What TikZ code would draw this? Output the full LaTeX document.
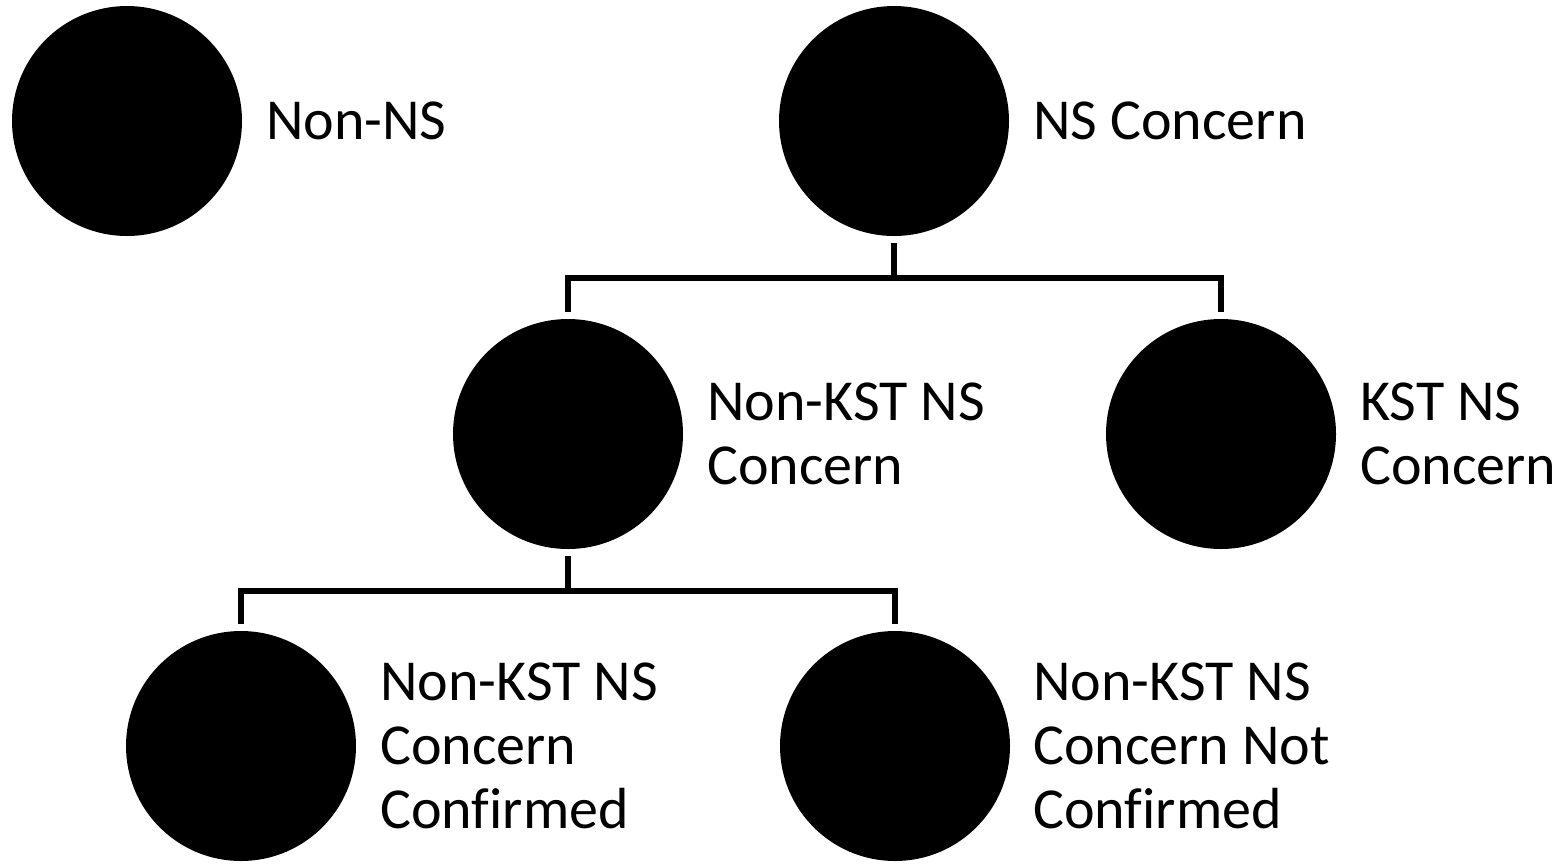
\documentclass[tikz,border=0pt]{standalone}
\usepackage{fontspec}
\setmainfont{Carlito}[Ligatures=NoCommon]
\begin{document}
\begin{tikzpicture}[x=1pt,y=-1pt,
  dot/.style={circle,fill=black,minimum size=230pt,inner sep=0pt},
  lbl/.style={anchor=west,align=left,inner sep=0pt,font=\fontsize{58}{64}\selectfont},
  conn/.style={line width=6pt,line join=miter,line cap=butt}]
\useasboundingbox (0,0) rectangle (1562,863);
\node[dot] (nonns) at (127,121) {};
\node[dot] (ns) at (894,121) {};
\node[dot] (nk) at (568,434) {};
\node[dot] (kst) at (1221,434) {};
\node[dot] (conf) at (241,746) {};
\node[dot] (notconf) at (895,746) {};
\node[lbl] (tnonns) at (266,121) {Non-NS};
\node[lbl] (tns) at (1033,121) {NS Concern};
\node[lbl] (tnk) at (707,434) {Non-KST NS\\Concern};
\node[lbl] (tkst) at (1360,434) {KST NS\\Concern};
\node[lbl] (tconf) at (380,746) {Non-KST NS\\Concern\\Confirmed};
\node[lbl] (tnotconf) at (1033,746) {Non-KST NS\\Concern Not\\Confirmed};
\coordinate (j1) at (894,278);
\coordinate (j2) at (568,591);
\draw[conn,shorten <=7pt] (ns.south) -- (j1);
\draw[conn,shorten >=7pt] (j1) -| (nk.north);
\draw[conn,shorten >=7pt] (j1) -| (kst.north);
\draw[conn,shorten <=7pt] (nk.south) -- (j2);
\draw[conn,shorten >=7pt] (j2) -| (conf.north);
\draw[conn,shorten >=7pt] (j2) -| (notconf.north);
\end{tikzpicture}
\end{document}
